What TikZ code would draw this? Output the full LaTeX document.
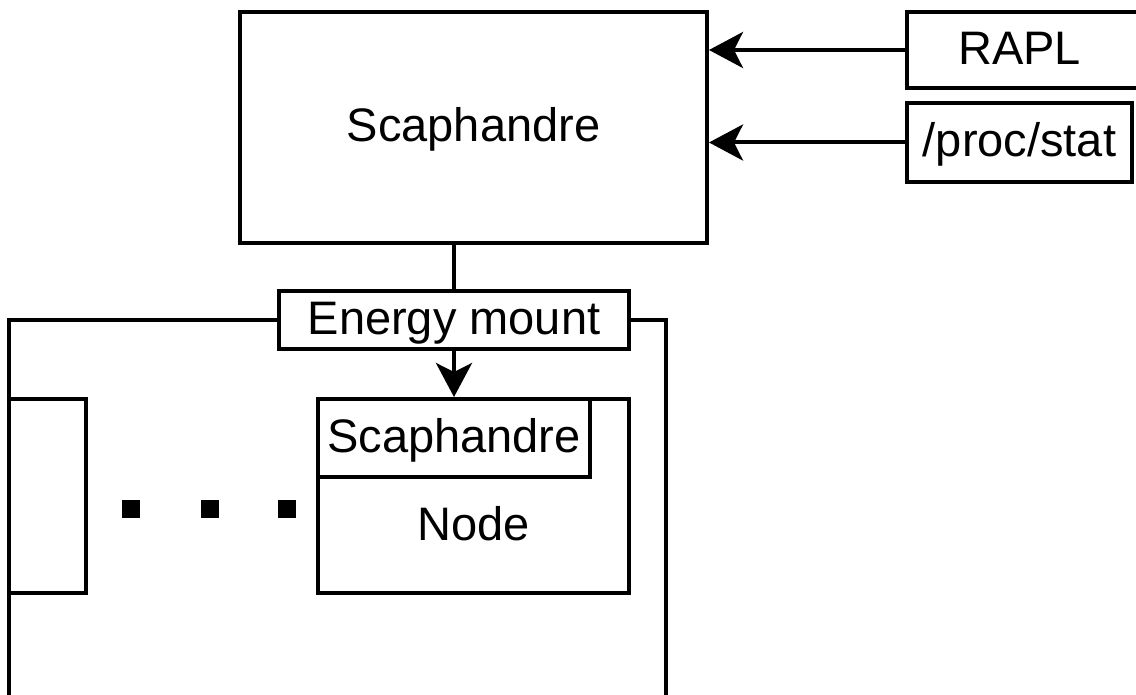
\documentclass[tikz,border=0pt]{standalone}
\usepackage{fontspec}
\setmainfont{Liberation Sans}
\usetikzlibrary{arrows.meta,positioning,calc}

\begin{document}
\begin{tikzpicture}[
    x=1pt, y=-1pt,
    box/.style={draw=black, line width=4pt, inner sep=0pt, align=center, text height=38pt, text depth=9pt, font=\fontsize{47}{56}\selectfont},
    lbl/.style={inner sep=0pt, text height=38pt, text depth=9pt, font=\fontsize{47}{56}\selectfont},
    conn/.style={line width=4pt, draw=black},
    arr/.style={conn, -{Stealth[length=34pt, width=36pt, inset=9pt]}},
    dotbox/.style={fill=black, inner sep=0pt, minimum size=18pt}
]
    \useasboundingbox (0,0) rectangle (1136,695);

    % Scaphandre on the host
    \node[box, minimum width=467pt, minimum height=231pt] (scaph) at (473.5,127.5) {Scaphandre};

    % sources
    \node[box, minimum width=233pt, minimum height=76pt] (rapl) at (1023.5,50) {\hspace*{-8pt}RAPL};
    \node[box, minimum width=225pt, minimum height=79pt] (proc) at (1019.5,142.5) {/proc/stat};

    \draw[arr] (rapl.west) -- (rapl.west -| scaph.east);
    \draw[arr] (proc.west) -- (proc.west -| scaph.east);

    % Energy mount on the cluster border
    \node[box, minimum width=350pt, minimum height=58pt] (emount) at (454,320) {Energy mount};
    \draw[conn] (emount.north) -- (emount.north |- scaph.south);

    % cluster outline (open at the bottom)
    \coordinate (cl) at (9,705);
    \coordinate (cr) at (666,705);
    \draw[conn] (emount.west) -| (cl);
    \draw[conn] (emount.east) -| (cr);

    % nodes of the cluster
    \node[box, minimum width=77pt, minimum height=194pt] (first) at (47.5,496) {};
    \node[box, minimum width=311pt, minimum height=194pt] (node) at (473.5,496) {};
    \node[box, minimum width=272pt, minimum height=78pt] (inner) at (454,438) {Scaphandre};
    \node[lbl] (nodelbl) at (473.5,525.5) {Node};

    \draw[arr] (emount.south) -- (emount.south |- node.north);

    % dots
    \foreach \x [count=\i] in {131,210,287}
        \node[dotbox] (dot\i) at (\x,509) {};

\end{tikzpicture}
\end{document}
